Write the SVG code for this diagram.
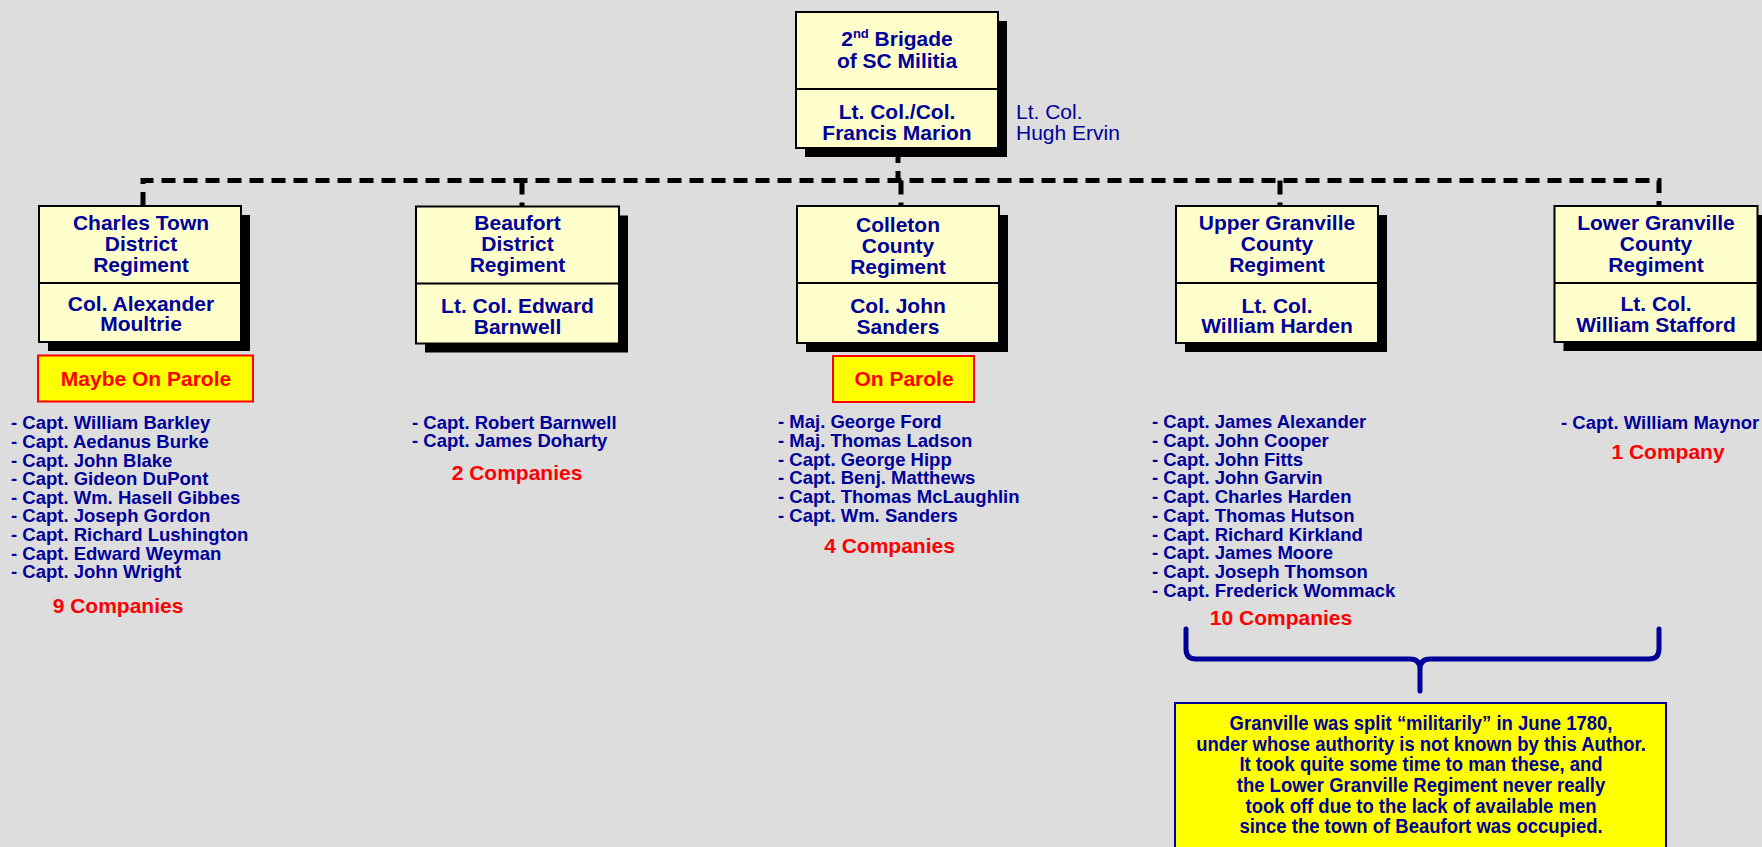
<svg xmlns="http://www.w3.org/2000/svg" width="1762" height="847" viewBox="0 0 1762 847">
<style>
.bg{fill:#dddddd}
.shadow{fill:#000000}
.box{fill:#ffffcc;stroke:#000000;stroke-width:2}
.div{stroke:#000000;stroke-width:2}
.bt{font-family:"Liberation Sans",Arial,sans-serif;font-weight:bold;font-size:21px;fill:#000099;text-anchor:middle}
.side{font-family:"Liberation Sans",Arial,sans-serif;font-size:21px;fill:#000099}
.list{font-family:"Liberation Sans",Arial,sans-serif;font-weight:bold;font-size:18.5px;fill:#000099}
.cnt{font-family:"Liberation Sans",Arial,sans-serif;font-weight:bold;font-size:21px;fill:#ff0000;text-anchor:middle}
.parole{fill:#ffff00;stroke:#ff0000;stroke-width:2}
.dash{fill:none;stroke:#000000;stroke-width:5;stroke-dasharray:14 8}
.brace{fill:none;stroke:#000099;stroke-width:5;stroke-linecap:round;stroke-linejoin:round}
.note{fill:#ffff00;stroke:#000099;stroke-width:2}
.nt{font-family:"Liberation Sans",Arial,sans-serif;font-weight:bold;font-size:21px;fill:#000099;text-anchor:middle}
</style>
<rect class="bg" x="0" y="0" width="1762" height="847"/>

<g id="connectors">
<path class="dash" d="M898,149 V181"/>
<path class="dash" d="M143,206 V180.5 H1659 V206"/>
<path class="dash" d="M522,180.5 V206"/>
<path class="dash" d="M901,180.5 V206"/>
<path class="dash" d="M1280,180.5 V206"/>
<path class="brace" d="M1186,629 V649 Q1186,659 1196,659 H1410 Q1420,659 1420,669 V691 M1420,669 Q1420,659 1430,659 H1649 Q1659,659 1659,649 V629"/>
</g>

<g id="brigade">
<rect class="shadow" x="805" y="21" width="202" height="136"/>
<rect class="box" x="796" y="12" width="202" height="136"/>
<line class="div" x1="796" y1="89" x2="998" y2="89"/>
<text class="bt" x="897" y="46">2<tspan font-size="13" dy="-8">nd</tspan><tspan dy="8"> Brigade</tspan></text>
<text class="bt" x="897" y="68">of SC Militia</text>
<text class="bt" x="897" y="119">Lt. Col./Col.</text>
<text class="bt" x="897" y="139.5">Francis Marion</text>
<text class="side" x="1016" y="119">Lt. Col.</text>
<text class="side" x="1016" y="139.5">Hugh Ervin</text>
</g>

<g id="charles-town">
<rect class="shadow" x="48" y="215" width="202" height="136"/>
<rect class="box" x="39" y="206" width="202" height="136"/>
<line class="div" x1="39" y1="283" x2="241" y2="283"/>
<text class="bt" x="141" y="229.5">Charles Town</text>
<text class="bt" x="141" y="250.5">District</text>
<text class="bt" x="141" y="271.5">Regiment</text>
<text class="bt" x="141" y="310.5">Col. Alexander</text>
<text class="bt" x="141" y="331">Moultrie</text>
<rect class="parole" x="38" y="355.5" width="215" height="46"/>
<text class="cnt" x="146" y="386">Maybe On Parole</text>
<text class="list" x="11" y="429.3">- Capt. William Barkley</text>
<text class="list" x="11" y="447.9">- Capt. Aedanus Burke</text>
<text class="list" x="11" y="466.5">- Capt. John Blake</text>
<text class="list" x="11" y="485.1">- Capt. Gideon DuPont</text>
<text class="list" x="11" y="503.7">- Capt. Wm. Hasell Gibbes</text>
<text class="list" x="11" y="522.3">- Capt. Joseph Gordon</text>
<text class="list" x="11" y="540.9">- Capt. Richard Lushington</text>
<text class="list" x="11" y="559.5">- Capt. Edward Weyman</text>
<text class="list" x="11" y="578.1">- Capt. John Wright</text>
<text class="cnt" x="118" y="613">9 Companies</text>
</g>

<g id="beaufort">
<rect class="shadow" x="425" y="215.5" width="203" height="137"/>
<rect class="box" x="416" y="206.5" width="203" height="137"/>
<line class="div" x1="416" y1="283.5" x2="619" y2="283.5"/>
<text class="bt" x="517.5" y="230">Beaufort</text>
<text class="bt" x="517.5" y="251">District</text>
<text class="bt" x="517.5" y="272">Regiment</text>
<text class="bt" x="517.5" y="313">Lt. Col. Edward</text>
<text class="bt" x="517.5" y="334">Barnwell</text>
<text class="list" x="412" y="428.7">- Capt. Robert Barnwell</text>
<text class="list" x="412" y="447.3">- Capt. James Doharty</text>
<text class="cnt" x="517" y="480">2 Companies</text>
</g>

<g id="colleton">
<rect class="shadow" x="806" y="215" width="202" height="137"/>
<rect class="box" x="797" y="206" width="202" height="137"/>
<line class="div" x1="797" y1="283" x2="999" y2="283"/>
<text class="bt" x="898" y="231.5">Colleton</text>
<text class="bt" x="898" y="252.5">County</text>
<text class="bt" x="898" y="273.5">Regiment</text>
<text class="bt" x="898" y="313">Col. John</text>
<text class="bt" x="898" y="333.5">Sanders</text>
<rect class="parole" x="833" y="356" width="141" height="46"/>
<text class="cnt" x="904" y="386">On Parole</text>
<text class="list" x="778" y="428.3">- Maj. George Ford</text>
<text class="list" x="778" y="447">- Maj. Thomas Ladson</text>
<text class="list" x="778" y="465.7">- Capt. George Hipp</text>
<text class="list" x="778" y="484.4">- Capt. Benj. Matthews</text>
<text class="list" x="778" y="503.1">- Capt. Thomas McLaughlin</text>
<text class="list" x="778" y="521.8">- Capt. Wm. Sanders</text>
<text class="cnt" x="889.5" y="552.7">4 Companies</text>
</g>

<g id="upper-granville">
<rect class="shadow" x="1185" y="215" width="202" height="137"/>
<rect class="box" x="1176" y="206" width="202" height="137"/>
<line class="div" x1="1176" y1="283" x2="1378" y2="283"/>
<text class="bt" x="1277" y="230">Upper Granville</text>
<text class="bt" x="1277" y="251">County</text>
<text class="bt" x="1277" y="272">Regiment</text>
<text class="bt" x="1277" y="312.5">Lt. Col.</text>
<text class="bt" x="1277" y="333">William Harden</text>
<text class="list" x="1152" y="428.3">- Capt. James Alexander</text>
<text class="list" x="1152" y="447">- Capt. John Cooper</text>
<text class="list" x="1152" y="465.7">- Capt. John Fitts</text>
<text class="list" x="1152" y="484.4">- Capt. John Garvin</text>
<text class="list" x="1152" y="503.1">- Capt. Charles Harden</text>
<text class="list" x="1152" y="521.8">- Capt. Thomas Hutson</text>
<text class="list" x="1152" y="540.5">- Capt. Richard Kirkland</text>
<text class="list" x="1152" y="559.2">- Capt. James Moore</text>
<text class="list" x="1152" y="577.9">- Capt. Joseph Thomson</text>
<text class="list" x="1152" y="596.6">- Capt. Frederick Wommack</text>
<text class="cnt" x="1281" y="625">10 Companies</text>
</g>

<g id="lower-granville">
<rect class="shadow" x="1563.5" y="215" width="203" height="136"/>
<rect class="box" x="1554.5" y="206" width="203" height="136"/>
<line class="div" x1="1554.5" y1="283" x2="1757.5" y2="283"/>
<text class="bt" x="1656" y="229.5">Lower Granville</text>
<text class="bt" x="1656" y="250.5">County</text>
<text class="bt" x="1656" y="271.5">Regiment</text>
<text class="bt" x="1656" y="310.5">Lt. Col.</text>
<text class="bt" x="1656" y="331.5">William Stafford</text>
<text class="list" x="1561" y="428.7">- Capt. William Maynor</text>
<text class="cnt" x="1668" y="459.3">1 Company</text>
</g>

<g id="note">
<rect class="note" x="1175" y="703" width="491" height="160"/>
<g transform="translate(1421,0) scale(0.88,1)">
<text class="nt" x="0" y="730">Granville was split “militarily” in June 1780,</text>
<text class="nt" x="0" y="750.7">under whose authority is not known by this Author.</text>
<text class="nt" x="0" y="771.5">It took quite some time to man these, and</text>
<text class="nt" x="0" y="792.3">the Lower Granville Regiment never really</text>
<text class="nt" x="0" y="813">took off due to the lack of available men</text>
<text class="nt" x="0" y="833.5">since the town of Beaufort was occupied.</text>
</g>
</g>
</svg>
